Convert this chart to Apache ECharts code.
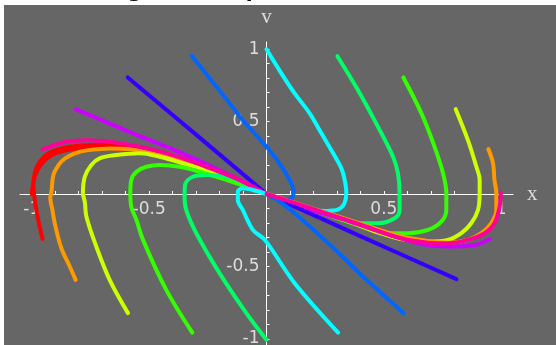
<!DOCTYPE html>
<html>
<head>
<meta charset="utf-8">
<script src="https://cdn.jsdelivr.net/npm/echarts@6/dist/echarts.min.js"></script>
<style>
  html, body { margin: 0; padding: 0; background: #ffffff; }
  #chart { width: 556px; height: 345px; }
</style>
</head>
<body>
<div id="chart"></div>
<script>
// Phase-plane trajectories (x, v), each running from a start point on the unit circle into the origin.
const cyan90    = [[0,1.0],[0.064,0.832],[0.12,0.695],[0.184,0.557],[0.234,0.419],[0.284,0.281],[0.319,0.177],[0.333,0.097],[0.34,0.005],[0.332,-0.064],[0.306,-0.106],[0.255,-0.117],[0.183,-0.106],[0.111,-0.064],[0,0]];
const blue108   = [[-0.318,0.954],[-0.157,0.626],[-0.101,0.51],[0,0.326],[0.055,0.212],[0.098,0.097],[0.116,0.016],[0.105,-0.03],[0.07,-0.041],[0,0]];
const indigo126 = [[-0.591,0.805],[-0.3,0.41],[0,0]];
const violet144 = [[-0.813,0.586],[-0.569,0.419],[-0.342,0.269],[-0.143,0.119],[0,0]];
const pink162   = [[-0.954,0.308],[-0.852,0.361],[-0.767,0.372],[-0.668,0.361],[-0.54,0.326],[-0.399,0.269],[-0.257,0.188],[-0.115,0.097],[0,0]];
const red180    = [[-1.0,0.0],[-0.985,0.13],[-0.955,0.215],[-0.915,0.268],[-0.86,0.3],[-0.79,0.318],[-0.7,0.322],[-0.57,0.3],[-0.43,0.258],[-0.285,0.195],[-0.143,0.115],[0,0]];
const red198    = [[-0.954,-0.31],[-0.971,-0.191],[-0.986,-0.053],[-0.993,0.062],[-0.986,0.154],[-0.965,0.223],[-0.929,0.281],[-0.872,0.315],[-0.801,0.333],[-0.702,0.338],[-0.569,0.315],[-0.427,0.269],[-0.285,0.2],[-0.143,0.119],[0,0]];
const orange216 = [[-0.813,-0.593],[-0.838,-0.501],[-0.874,-0.374],[-0.902,-0.202],[-0.912,-0.11],[-0.921,-0.028],[-0.915,0.028],[-0.908,0.131],[-0.886,0.2],[-0.858,0.246],[-0.816,0.281],[-0.759,0.303],[-0.668,0.315],[-0.583,0.31],[-0.427,0.257],[-0.285,0.193],[-0.143,0.11],[0,0]];
const yg234     = [[-0.59,-0.823],[-0.668,-0.593],[-0.725,-0.363],[-0.767,-0.157],[-0.774,-0.053],[-0.782,0.005],[-0.774,0.119],[-0.746,0.2],[-0.711,0.246],[-0.64,0.269],[-0.54,0.281],[-0.455,0.257],[-0.356,0.212],[-0.214,0.143],[0,0]];
const green252  = [[-0.316,-0.957],[-0.427,-0.662],[-0.526,-0.317],[-0.554,-0.179],[-0.576,-0.088],[-0.58,0.007],[-0.576,0.097],[-0.554,0.154],[-0.512,0.188],[-0.455,0.2],[-0.37,0.188],[-0.285,0.154],[-0.171,0.097],[0,0]];
const sg270     = [[0,-1.007],[-0.086,-0.823],[-0.2,-0.547],[-0.299,-0.271],[-0.342,-0.11],[-0.349,-0.019],[-0.347,0.062],[-0.314,0.119],[-0.257,0.131],[-0.171,0.119],[-0.086,0.074],[0,0]];
const cyan288   = [[0.305,-0.957],[0.12,-0.616],[-0.007,-0.317],[-0.058,-0.248],[-0.101,-0.11],[-0.122,-0.041],[-0.122,0.016],[-0.101,0.039],[-0.058,0.028],[0,0]];
const blue306   = [[0.584,-0.823],[0.404,-0.559],[0.263,-0.34],[0.12,-0.133],[0.05,-0.045],[0,0]];
const indigo324 = [[0.809,-0.588],[0.404,-0.294],[0,0]];
const violet342 = [[0.95,-0.312],[0.886,-0.352],[0.773,-0.363],[0.66,-0.345],[0.546,-0.294],[0.333,-0.179],[0.12,-0.076],[0,0]];
const pink0     = [[0.998,0.01],[0.993,-0.088],[0.971,-0.202],[0.929,-0.271],[0.858,-0.317],[0.773,-0.34],[0.688,-0.336],[0.574,-0.306],[0.404,-0.214],[0.191,-0.099],[0,0]];
const orange18  = [[0.945,0.31],[0.965,0.212],[0.971,0.097],[0.979,0.005],[0.979,-0.11],[0.957,-0.202],[0.915,-0.271],[0.858,-0.317],[0.773,-0.336],[0.685,-0.324],[0.566,-0.29],[0.404,-0.207],[0.191,-0.097],[0,0]];
const yg36      = [[0.806,0.586],[0.858,0.372],[0.894,0.188],[0.908,0.097],[0.908,0.005],[0.901,-0.11],[0.872,-0.202],[0.83,-0.271],[0.773,-0.317],[0.688,-0.329],[0.589,-0.317],[0.481,-0.269],[0.332,-0.179],[0.14,-0.083],[0,0]];
const green54   = [[0.583,0.805],[0.66,0.557],[0.716,0.326],[0.752,0.143],[0.766,0.005],[0.766,-0.11],[0.745,-0.191],[0.688,-0.248],[0.603,-0.271],[0.518,-0.271],[0.433,-0.237],[0.263,-0.145],[0,0]];
const sg72      = [[0.302,0.952],[0.39,0.717],[0.475,0.464],[0.539,0.257],[0.56,0.143],[0.567,0.005],[0.567,-0.11],[0.546,-0.168],[0.475,-0.202],[0.39,-0.202],[0.305,-0.168],[0.163,-0.088],[0,0]];

// Drawing order (later entries are painted on top) and the hue of each trajectory.
const trajectories = [
  [red180, '#ff0000'], [red198, '#ff0000'], [orange216, '#ff9900'], [yg234, '#ccff00'],
  [green252, '#33ff00'], [sg270, '#00ff66'], [violet144, '#cc00ff'], [indigo126, '#3300ff'],
  [pink162, '#ff0099'], [blue108, '#0066ff'], [cyan90, '#00ffff'], [sg72, '#00ff66'],
  [green54, '#33ff00'], [yg36, '#ccff00'], [orange18, '#ff9900'], [violet342, '#cc00ff'],
  [indigo324, '#3300ff'], [blue306, '#0066ff'], [cyan288, '#00ffff'], [pink0, '#ff0099']
];

const tickLabels = [-1, -0.5, 0.5, 1];
const tickMarks = [-1.0,-0.9,-0.8,-0.7,-0.6,-0.5,-0.4,-0.3,-0.2,-0.1,0.1,0.2,0.3,0.4,0.5,0.6,0.7,0.8,0.9,1.0];
const titleText = 'Strong friction: phase flow';

const chart = echarts.init(document.getElementById('chart'), null, { renderer: 'canvas' });

// Plot rectangle in pixels; both axes are shifted onto the origin of the data range.
const plot = { left: 20, top: 42, width: 493, height: 304 };

function axisCommon(name) {
  return {
    type: 'value',
    min: -1.05,
    max: 1.05,
    name: name,
    nameLocation: 'end',
    nameTextStyle: { color: '#dddddd', fontFamily: 'Liberation Serif', fontSize: 21 },
    axisLine: { show: true, onZero: false, lineStyle: { color: '#ffffff', width: 1 } },
    axisTick: { show: true, inside: true, length: 3, customValues: tickMarks, lineStyle: { color: '#ffffff', width: 1 } },
    axisLabel: {
      show: true, customValues: tickLabels, color: '#dddddd',
      fontFamily: 'DejaVu Sans', fontSize: 17, margin: 7,
      formatter: v => String(v)
    },
    splitLine: { show: false }
  };
}

const xAxis = axisCommon('x');
xAxis.position = 'bottom';
xAxis.offset = -plot.height / 2;
xAxis.nameGap = 14;
const yAxis = axisCommon('v');
yAxis.position = 'left';
yAxis.offset = -plot.width / 2;
yAxis.nameGap = 14;

chart.setOption({
  animation: false,
  backgroundColor: 'transparent',
  graphic: [
    { type: 'rect', silent: true, z: -100, shape: { x: 4, y: 5, width: 552, height: 340 }, style: { fill: '#666666' } },
    { type: 'text', silent: true, z: 100, x: 66, y: 2,
      style: { text: titleText, fill: '#000000', font: 'bold 20px "DejaVu Sans"', textVerticalAlign: 'bottom' } }
  ],
  grid: Object.assign({ containLabel: false, outerBoundsMode: 'none' }, plot),
  xAxis: xAxis,
  yAxis: yAxis,
  series: trajectories.map(([pts, color]) => ({
    type: 'line',
    data: pts,
    showSymbol: false,
    smooth: 0.35,
    clip: true,
    lineStyle: { color: color, width: 4, cap: 'round', join: 'round' }
  }))
});
</script>
</body>
</html>
